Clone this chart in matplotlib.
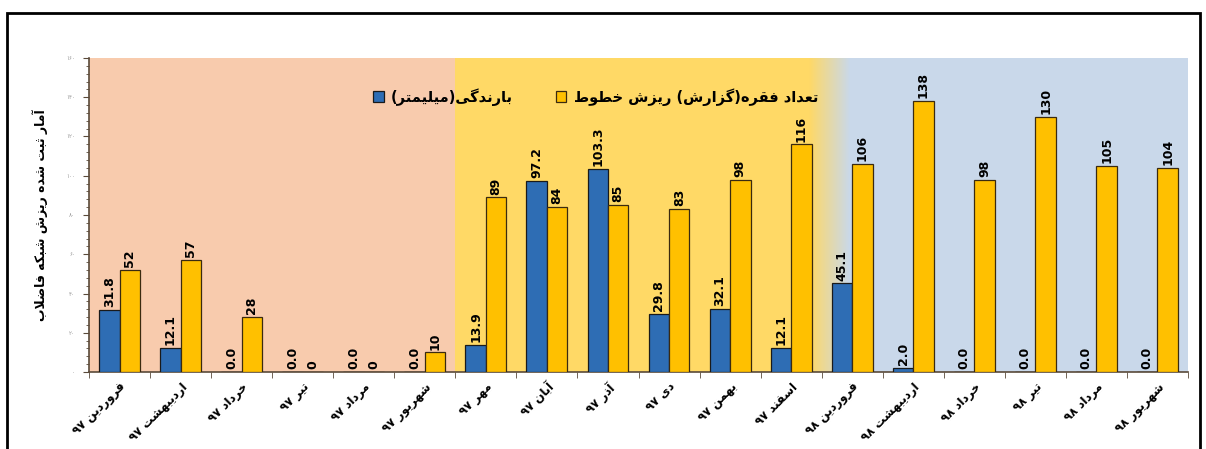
import re
import numpy as np
import matplotlib
matplotlib.use("Agg")
import matplotlib.pyplot as plt
from matplotlib.patches import Rectangle
from matplotlib.ticker import MultipleLocator, FixedLocator
from matplotlib.colors import LinearSegmentedColormap

# ---------------- data ----------------
months = ["فروردین", "اردیبهشت", "خرداد", "تیر", "مرداد", "شهریور",
          "مهر", "آبان", "آذر", "دی", "بهمن", "اسفند",
          "فروردین", "اردیبهشت", "خرداد", "تیر", "مرداد", "شهریور"]
years = ["۹۷"] * 12 + ["۹۸"] * 6
rain_mm = [31.8, 12.1, 0.0, 0.0, 0.0, 0.0, 13.9, 97.2, 103.3, 29.8, 32.1, 12.1,
           45.1, 2.0, 0.0, 0.0, 0.0, 0.0]
collapse_count = [52, 57, 28, 0, 0, 10, 89, 84, 85, 83, 98, 116,
                  106, 138, 98, 130, 105, 104]
legend_rain = "بارندگی(میلیمتر)"
legend_count = "تعداد فقره(گزارش) ریزش خطوط"
ylabel_text = "آمار ثبت شده ریزش شبکه فاضلاب"
yticks_vals = [0, 20, 40, 60, 80, 100, 120, 140, 160]

# ---------------- Arabic/Persian shaping ----------------
DUAL = {
    'ب': (0xFE8F, 0xFE90, 0xFE91, 0xFE92), 'پ': (0xFB56, 0xFB57, 0xFB58, 0xFB59),
    'ت': (0xFE95, 0xFE96, 0xFE97, 0xFE98), 'ث': (0xFE99, 0xFE9A, 0xFE9B, 0xFE9C),
    'ج': (0xFE9D, 0xFE9E, 0xFE9F, 0xFEA0), 'چ': (0xFB7A, 0xFB7B, 0xFB7C, 0xFB7D),
    'ح': (0xFEA1, 0xFEA2, 0xFEA3, 0xFEA4), 'خ': (0xFEA5, 0xFEA6, 0xFEA7, 0xFEA8),
    'س': (0xFEB1, 0xFEB2, 0xFEB3, 0xFEB4), 'ش': (0xFEB5, 0xFEB6, 0xFEB7, 0xFEB8),
    'ص': (0xFEB9, 0xFEBA, 0xFEBB, 0xFEBC), 'ض': (0xFEBD, 0xFEBE, 0xFEBF, 0xFEC0),
    'ط': (0xFEC1, 0xFEC2, 0xFEC3, 0xFEC4), 'ظ': (0xFEC5, 0xFEC6, 0xFEC7, 0xFEC8),
    'ع': (0xFEC9, 0xFECA, 0xFECB, 0xFECC), 'غ': (0xFECD, 0xFECE, 0xFECF, 0xFED0),
    'ف': (0xFED1, 0xFED2, 0xFED3, 0xFED4), 'ق': (0xFED5, 0xFED6, 0xFED7, 0xFED8),
    'ک': (0xFB8E, 0xFB8F, 0xFB90, 0xFB91), 'گ': (0xFB92, 0xFB93, 0xFB94, 0xFB95),
    'ل': (0xFEDD, 0xFEDE, 0xFEDF, 0xFEE0), 'م': (0xFEE1, 0xFEE2, 0xFEE3, 0xFEE4),
    'ن': (0xFEE5, 0xFEE6, 0xFEE7, 0xFEE8), 'ه': (0xFEE9, 0xFEEA, 0xFEEB, 0xFEEC),
    'ی': (0xFBFC, 0xFBFD, 0xFBFE, 0xFBFF),
}
RIGHT = {
    'ا': (0xFE8D, 0xFE8E), 'آ': (0xFE81, 0xFE82), 'د': (0xFEA9, 0xFEAA),
    'ذ': (0xFEAB, 0xFEAC), 'ر': (0xFEAD, 0xFEAE), 'ز': (0xFEAF, 0xFEB0),
    'ژ': (0xFB8A, 0xFB8B), 'و': (0xFEED, 0xFEEE),
}
LAMALEF = {'ا': (0xFEFB, 0xFEFC), 'آ': (0xFEF5, 0xFEF6)}


def shape(s):
    out = []
    i = 0
    n = len(s)
    prev_joins = False
    while i < n:
        c = s[i]
        nxt = s[i + 1] if i + 1 < n else ''
        if c == 'ل' and nxt in LAMALEF:
            lig = LAMALEF[nxt]
            out.append(chr(lig[1] if prev_joins else lig[0]))
            prev_joins = False
            i += 2
            continue
        if c in DUAL:
            f = DUAL[c]
            jn = (nxt in DUAL) or (nxt in RIGHT)
            if prev_joins and jn:
                ch = f[3]
            elif prev_joins:
                ch = f[1]
            elif jn:
                ch = f[2]
            else:
                ch = f[0]
            out.append(chr(ch))
            prev_joins = jn
        elif c in RIGHT:
            f = RIGHT[c]
            out.append(chr(f[1] if prev_joins else f[0]))
            prev_joins = False
        else:
            out.append(c)
            prev_joins = False
        i += 1
    return ''.join(out)


def rtl(s):
    t = shape(s)[::-1]
    t = t.translate(str.maketrans('()', ')('))
    t = re.sub(r'[0-9۰-۹]+', lambda m: m.group(0)[::-1], t)
    return t


def fa_digits(n):
    return str(n).translate(str.maketrans('0123456789', '۰۱۲۳۴۵۶۷۸۹'))


# ---------------- figure ----------------
plt.rcParams['font.family'] = ['DejaVu Sans']
W, H = 1206, 449
fig = plt.figure(figsize=(W / 100, H / 100), dpi=100)
ax = fig.add_axes([89 / W, 1 - 372 / H, (1188 - 89) / W, (372 - 58) / H])

n = len(months)
x = np.arange(n)

# background bands
salmon = '#F8CBAD'
yellow = '#FFD966'
blue_bg = '#C9D8EA'
ax.axvspan(-0.5, 5.5, color=salmon, zorder=0, lw=0)
ax.axvspan(5.5, 11.3, color=yellow, zorder=0, lw=0)
ax.axvspan(11.95, n - 0.5, color=blue_bg, zorder=0, lw=0)
cmap = LinearSegmentedColormap.from_list('g', [yellow, blue_bg])
grad = np.linspace(0, 1, 200).reshape(1, -1)
ax.imshow(grad, extent=(11.29, 11.96, 0, 160), aspect='auto', cmap=cmap,
          zorder=0, interpolation='bilinear')

bw = 0.335
bar_blue = '#2E6DB4'
bar_gold = '#FFC000'
b1 = ax.bar(x - bw / 2, rain_mm, width=bw, color=bar_blue, edgecolor='#1a1a1a',
            linewidth=0.9, zorder=3)
b2 = ax.bar(x + bw / 2, collapse_count, width=bw, color=bar_gold, edgecolor='#3a2a10',
            linewidth=0.9, zorder=3)

for rect, v in zip(b1, rain_mm):
    ax.annotate(f"{v:.1f}", (rect.get_x() + rect.get_width() / 2, rect.get_height()),
                xytext=(0, 2), textcoords='offset points', rotation=90,
                ha='center', va='bottom', fontsize=9, fontweight='bold', zorder=5)
for rect, v in zip(b2, collapse_count):
    ax.annotate(f"{v:d}", (rect.get_x() + rect.get_width() / 2, rect.get_height()),
                xytext=(0, 2), textcoords='offset points', rotation=90,
                ha='center', va='bottom', fontsize=9, fontweight='bold', zorder=5)

ax.set_xlim(-0.5, n - 0.5)
ax.set_ylim(0, 160)

# axes styling
for s in ['top', 'right']:
    ax.spines[s].set_visible(False)
spine_col = '#5a4a3a'
ax.spines['left'].set_color(spine_col)
ax.spines['bottom'].set_color(spine_col)
ax.spines['left'].set_linewidth(1.2)
ax.spines['bottom'].set_linewidth(1.2)

ax.set_yticks(yticks_vals)
ax.set_yticklabels([fa_digits(v) for v in yticks_vals], fontsize=4, color='#999999')
ax.yaxis.set_minor_locator(MultipleLocator(4))
ax.tick_params(axis='y', which='major', length=4, color=spine_col, pad=6)
ax.tick_params(axis='y', which='minor', length=2, color=spine_col)

xlabels = [rtl(m + " " + y) for m, y in zip(months, years)]
ax.set_xticks(x)
ax.set_xticklabels(xlabels, rotation=45, ha='right', rotation_mode='anchor',
                   fontsize=8.5, fontweight='bold')
ax.xaxis.set_minor_locator(FixedLocator(np.arange(-0.5, n, 1.0)))
ax.tick_params(axis='x', which='major', length=0, pad=6)
ax.tick_params(axis='x', which='minor', length=4, color=spine_col)

ax.set_ylabel(rtl(ylabel_text), fontsize=9, fontweight='bold')
ax.yaxis.set_label_coords(-0.0375, 0.5)

leg = ax.legend([b1, b2], [rtl(legend_rain), rtl(legend_count)], ncol=2,
                loc='center', bbox_to_anchor=(0.461, 0.876), frameon=False,
                prop={'size': 10.5, 'weight': 'bold'}, handlelength=0.75,
                handleheight=0.75, columnspacing=2.9, handletextpad=0.5)

# outer frame
fig.patches.append(Rectangle((7 / W, -0.1), (1200 - 7) / W, 1 - 13 / H + 0.1,
                             transform=fig.transFigure, fill=False,
                             edgecolor='black', linewidth=2, clip_on=False))

fig.savefig('out.png', dpi=100)
